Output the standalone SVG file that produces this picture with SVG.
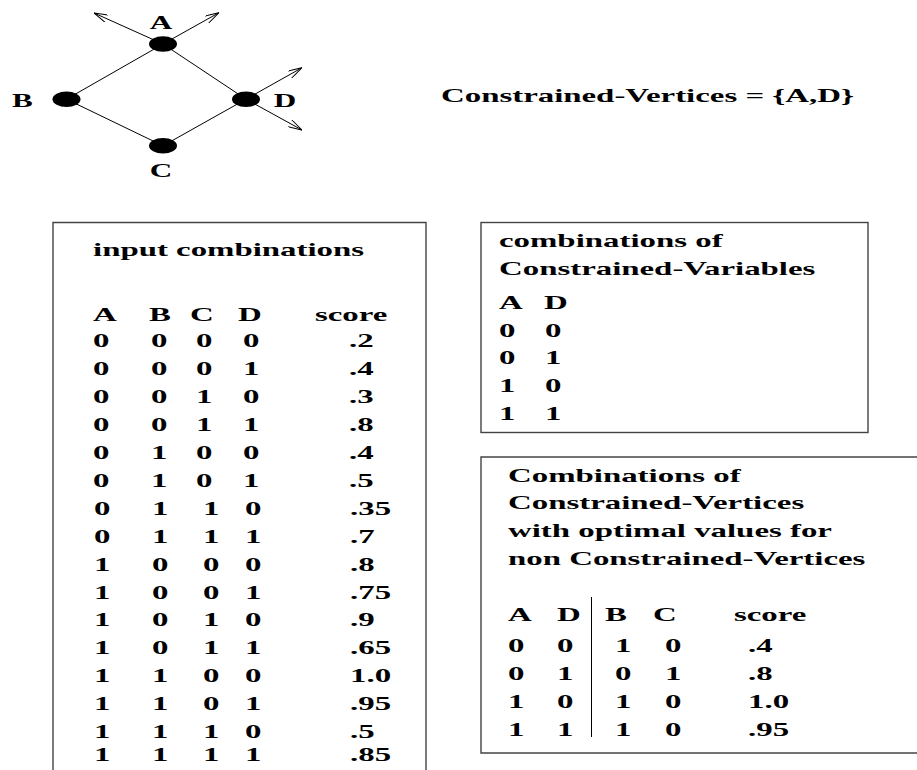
<svg xmlns="http://www.w3.org/2000/svg" width="917" height="770" viewBox="0 0 917 770">
<style>
  text { font-family: "Liberation Serif", "Times New Roman", serif; font-weight: bold; font-size: 19px; fill: #000; }
  .lbl { font-size: 18px; text-anchor: middle; }
  .edge { stroke: #000; stroke-width: 1; fill: none; }
  .box { stroke: #444; stroke-width: 1.4; fill: none; }
  .vert { fill: #000; }
</style>
<defs>
  <marker id="open" viewBox="0 0 14 8" refX="14" refY="4" markerWidth="14" markerHeight="8" markerUnits="userSpaceOnUse" orient="auto">
    <path d="M0,0 L14,4 L0,8" fill="none" stroke="#000" stroke-width="1"/>
  </marker>
</defs>
<rect width="917" height="770" fill="#fff"/>

<!-- graph connectors -->
<g id="connectors">
  <line class="edge" x1="163" y1="44" x2="66.5" y2="99.2"/>
  <line class="edge" x1="163" y1="44" x2="246" y2="99.2"/>
  <line class="edge" x1="66.5" y1="99.2" x2="163" y2="145.8"/>
  <line class="edge" x1="163" y1="145.8" x2="246" y2="99.2"/>
  <line class="edge" x1="163" y1="44" x2="94" y2="13" marker-end="url(#open)"/>
  <line class="edge" x1="163" y1="44" x2="219" y2="12.7" marker-end="url(#open)"/>
  <line class="edge" x1="246" y1="99.2" x2="302" y2="67.7" marker-end="url(#open)"/>
  <line class="edge" x1="246" y1="99.2" x2="302" y2="130" marker-end="url(#open)"/>
</g>

<!-- graph vertices -->
<g id="vertex-A">
  <ellipse class="vert" cx="163" cy="44" rx="14" ry="7.8"/>
  <text class="lbl" transform="matrix(1.73 0 0 1 161 29)">A</text>
</g>
<g id="vertex-B">
  <ellipse class="vert" cx="66.5" cy="99.2" rx="14" ry="7.8"/>
  <text class="lbl" transform="matrix(1.73 0 0 1 22.5 107)">B</text>
</g>
<g id="vertex-C">
  <ellipse class="vert" cx="163" cy="145.8" rx="14" ry="7.8"/>
  <text class="lbl" transform="matrix(1.73 0 0 1 161 177)">C</text>
</g>
<g id="vertex-D">
  <ellipse class="vert" cx="246" cy="99.2" rx="14" ry="7.8"/>
  <text class="lbl" transform="matrix(1.73 0 0 1 285 107)">D</text>
</g>

<g id="constrained-set">
  <text transform="matrix(1.73 0 0 1 441 102)">Constrained-Vertices = {A,D}</text>
</g>

<!-- input combinations table -->
<g id="input-table">
  <path class="box" d="M53,772 V222.5 H426 V772"/>
  <text transform="matrix(1.73 0 0 1 93 256)">input combinations</text>
  <text transform="matrix(1.73 0 0 1 93 320.5)">A</text>
  <text transform="matrix(1.73 0 0 1 149 320.5)">B</text>
  <text transform="matrix(1.73 0 0 1 190 320.5)">C</text>
  <text transform="matrix(1.73 0 0 1 238 320.5)">D</text>
  <text transform="matrix(1.73 0 0 1 315 320.5)">score</text>

  <text transform="matrix(1.73 0 0 1 93 347.4)">0</text><text transform="matrix(1.73 0 0 1 151 347.4)">0</text><text transform="matrix(1.73 0 0 1 196 347.4)">0</text><text transform="matrix(1.73 0 0 1 243 347.4)">0</text><text transform="matrix(1.73 0 0 1 349 347.4)">.2</text>
  <text transform="matrix(1.73 0 0 1 93 375.3)">0</text><text transform="matrix(1.73 0 0 1 151 375.3)">0</text><text transform="matrix(1.73 0 0 1 196 375.3)">0</text><text transform="matrix(1.73 0 0 1 243 375.3)">1</text><text transform="matrix(1.73 0 0 1 349 375.3)">.4</text>
  <text transform="matrix(1.73 0 0 1 93 403.2)">0</text><text transform="matrix(1.73 0 0 1 151 403.2)">0</text><text transform="matrix(1.73 0 0 1 196 403.2)">1</text><text transform="matrix(1.73 0 0 1 243 403.2)">0</text><text transform="matrix(1.73 0 0 1 349 403.2)">.3</text>
  <text transform="matrix(1.73 0 0 1 93 431.1)">0</text><text transform="matrix(1.73 0 0 1 151 431.1)">0</text><text transform="matrix(1.73 0 0 1 196 431.1)">1</text><text transform="matrix(1.73 0 0 1 243 431.1)">1</text><text transform="matrix(1.73 0 0 1 349 431.1)">.8</text>
  <text transform="matrix(1.73 0 0 1 93 459)">0</text><text transform="matrix(1.73 0 0 1 151 459)">1</text><text transform="matrix(1.73 0 0 1 196 459)">0</text><text transform="matrix(1.73 0 0 1 243 459)">0</text><text transform="matrix(1.73 0 0 1 349 459)">.4</text>
  <text transform="matrix(1.73 0 0 1 93 486.9)">0</text><text transform="matrix(1.73 0 0 1 151 486.9)">1</text><text transform="matrix(1.73 0 0 1 196 486.9)">0</text><text transform="matrix(1.73 0 0 1 243 486.9)">1</text><text transform="matrix(1.73 0 0 1 349 486.9)">.5</text>
  <text transform="matrix(1.73 0 0 1 94 514.8)">0</text><text transform="matrix(1.73 0 0 1 152 514.8)">1</text><text transform="matrix(1.73 0 0 1 203 514.8)">1</text><text transform="matrix(1.73 0 0 1 245 514.8)">0</text><text transform="matrix(1.73 0 0 1 350 514.8)">.35</text>
  <text transform="matrix(1.73 0 0 1 94 542.7)">0</text><text transform="matrix(1.73 0 0 1 152 542.7)">1</text><text transform="matrix(1.73 0 0 1 203 542.7)">1</text><text transform="matrix(1.73 0 0 1 245 542.7)">1</text><text transform="matrix(1.73 0 0 1 350 542.7)">.7</text>
  <text transform="matrix(1.73 0 0 1 94 570.6)">1</text><text transform="matrix(1.73 0 0 1 152 570.6)">0</text><text transform="matrix(1.73 0 0 1 203 570.6)">0</text><text transform="matrix(1.73 0 0 1 245 570.6)">0</text><text transform="matrix(1.73 0 0 1 350 570.6)">.8</text>
  <text transform="matrix(1.73 0 0 1 94 598.5)">1</text><text transform="matrix(1.73 0 0 1 152 598.5)">0</text><text transform="matrix(1.73 0 0 1 203 598.5)">0</text><text transform="matrix(1.73 0 0 1 245 598.5)">1</text><text transform="matrix(1.73 0 0 1 350 598.5)">.75</text>
  <text transform="matrix(1.73 0 0 1 94 626.4)">1</text><text transform="matrix(1.73 0 0 1 152 626.4)">0</text><text transform="matrix(1.73 0 0 1 203 626.4)">1</text><text transform="matrix(1.73 0 0 1 245 626.4)">0</text><text transform="matrix(1.73 0 0 1 350 626.4)">.9</text>
  <text transform="matrix(1.73 0 0 1 94 654.3)">1</text><text transform="matrix(1.73 0 0 1 152 654.3)">0</text><text transform="matrix(1.73 0 0 1 203 654.3)">1</text><text transform="matrix(1.73 0 0 1 245 654.3)">1</text><text transform="matrix(1.73 0 0 1 350 654.3)">.65</text>
  <text transform="matrix(1.73 0 0 1 94 682.2)">1</text><text transform="matrix(1.73 0 0 1 152 682.2)">1</text><text transform="matrix(1.73 0 0 1 203 682.2)">0</text><text transform="matrix(1.73 0 0 1 245 682.2)">0</text><text transform="matrix(1.73 0 0 1 350 682.2)">1.0</text>
  <text transform="matrix(1.73 0 0 1 94 710.1)">1</text><text transform="matrix(1.73 0 0 1 152 710.1)">1</text><text transform="matrix(1.73 0 0 1 203 710.1)">0</text><text transform="matrix(1.73 0 0 1 245 710.1)">1</text><text transform="matrix(1.73 0 0 1 350 710.1)">.95</text>
  <text transform="matrix(1.73 0 0 1 94 738)">1</text><text transform="matrix(1.73 0 0 1 152 738)">1</text><text transform="matrix(1.73 0 0 1 203 738)">1</text><text transform="matrix(1.73 0 0 1 245 738)">0</text><text transform="matrix(1.73 0 0 1 350 738)">.5</text>
  <text transform="matrix(1.73 0 0 1 94 761)">1</text><text transform="matrix(1.73 0 0 1 152 761)">1</text><text transform="matrix(1.73 0 0 1 203 761)">1</text><text transform="matrix(1.73 0 0 1 245 761)">1</text><text transform="matrix(1.73 0 0 1 350 761)">.85</text>
</g>

<!-- constrained-variable combinations -->
<g id="constrained-table">
  <rect class="box" x="481" y="222.5" width="387" height="210"/>
  <text transform="matrix(1.73 0 0 1 499 247)">combinations of</text>
  <text transform="matrix(1.73 0 0 1 499 275)">Constrained-Variables</text>
  <text transform="matrix(1.73 0 0 1 499 309)">A</text><text transform="matrix(1.73 0 0 1 544 309)">D</text>
  <text transform="matrix(1.73 0 0 1 499 336.7)">0</text><text transform="matrix(1.73 0 0 1 545 336.7)">0</text>
  <text transform="matrix(1.73 0 0 1 499 364.3)">0</text><text transform="matrix(1.73 0 0 1 545 364.3)">1</text>
  <text transform="matrix(1.73 0 0 1 499 391.9)">1</text><text transform="matrix(1.73 0 0 1 545 391.9)">0</text>
  <text transform="matrix(1.73 0 0 1 499 419.5)">1</text><text transform="matrix(1.73 0 0 1 545 419.5)">1</text>
</g>

<!-- optimal completions table -->
<g id="optimal-table">
  <path class="box" d="M919,457 H481 V753 H919"/>
  <text transform="matrix(1.73 0 0 1 508 481.7)">Combinations of</text>
  <text transform="matrix(1.73 0 0 1 508 509.3)">Constrained-Vertices</text>
  <text transform="matrix(1.73 0 0 1 508 537)">with optimal values for</text>
  <text transform="matrix(1.73 0 0 1 508 564.7)">non Constrained-Vertices</text>
  <line class="edge" x1="591.5" y1="597" x2="591.5" y2="737"/>
  <text transform="matrix(1.73 0 0 1 508 620.7)">A</text><text transform="matrix(1.73 0 0 1 557 620.7)">D</text><text transform="matrix(1.73 0 0 1 605 620.7)">B</text><text transform="matrix(1.73 0 0 1 653 620.7)">C</text><text transform="matrix(1.73 0 0 1 734 620.7)">score</text>
  <text transform="matrix(1.73 0 0 1 508 651.7)">0</text><text transform="matrix(1.73 0 0 1 557 651.7)">0</text><text transform="matrix(1.73 0 0 1 615 651.7)">1</text><text transform="matrix(1.73 0 0 1 665 651.7)">0</text><text transform="matrix(1.73 0 0 1 748 651.7)">.4</text>
  <text transform="matrix(1.73 0 0 1 508 679.5)">0</text><text transform="matrix(1.73 0 0 1 557 679.5)">1</text><text transform="matrix(1.73 0 0 1 615 679.5)">0</text><text transform="matrix(1.73 0 0 1 665 679.5)">1</text><text transform="matrix(1.73 0 0 1 748 679.5)">.8</text>
  <text transform="matrix(1.73 0 0 1 508 707.5)">1</text><text transform="matrix(1.73 0 0 1 557 707.5)">0</text><text transform="matrix(1.73 0 0 1 615 707.5)">1</text><text transform="matrix(1.73 0 0 1 665 707.5)">0</text><text transform="matrix(1.73 0 0 1 748 707.5)">1.0</text>
  <text transform="matrix(1.73 0 0 1 508 735.5)">1</text><text transform="matrix(1.73 0 0 1 557 735.5)">1</text><text transform="matrix(1.73 0 0 1 615 735.5)">1</text><text transform="matrix(1.73 0 0 1 665 735.5)">0</text><text transform="matrix(1.73 0 0 1 748 735.5)">.95</text>
</g>
</svg>
